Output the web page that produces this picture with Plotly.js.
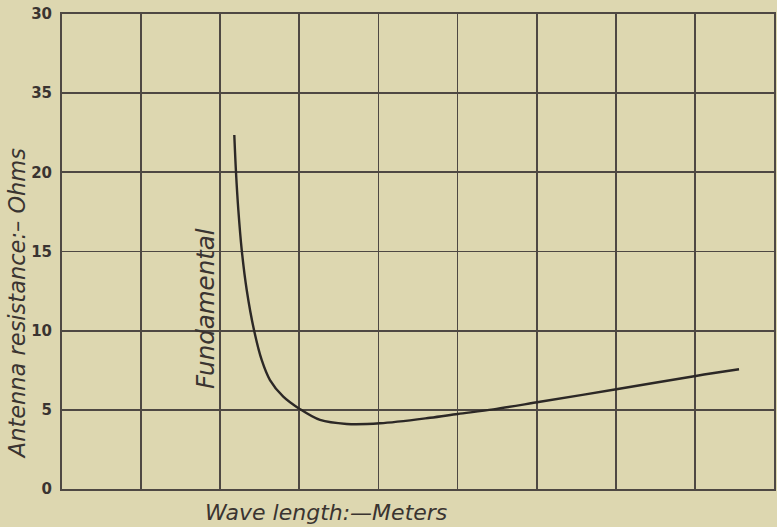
<!DOCTYPE html>
<html>
<head>
<meta charset="utf-8">
<script src="https://cdn.plot.ly/plotly-3.0.1.min.js"></script>
<style>
  html, body { margin: 0; padding: 0; background: #ddd7b0; }
  #chart { width: 777px; height: 527px; }
</style>
</head>
<body>
<div id="chart"></div>
<script>
// Wave length (grid units, unlabeled) and antenna resistance (ohms)
const waveLength = [2.178, 2.199, 2.229, 2.272, 2.335, 2.427, 2.524, 2.629, 2.797, 3.009, 3.261, 3.599, 4.020, 4.652, 5.002, 5.452, 6.042, 7.007, 8.010, 8.558];
const resistance = [22.36, 20.04, 17.62, 15.09, 12.57, 10.04, 8.15, 6.88, 5.83, 5.04, 4.36, 4.11, 4.15, 4.50, 4.74, 5.03, 5.51, 6.30, 7.14, 7.56];

const yTickVals = [0, 5, 10, 15, 20, 25, 30];
const yTickText = ['0', '5', '10', '15', '20', '35', '30'];
const xGridVals = [0, 1, 2, 3, 4, 5, 6, 7, 8, 9];

const xTitle = 'Wave length:—Meters';
const yTitle = 'Antenna resistance:– Ohms';
const markLabel = 'Fundamental';

const ink = '#3a3431';
const gridInk = '#4e4843';
const paper = '#ddd7b0';

const trace = {
  x: waveLength,
  y: resistance,
  type: 'scatter',
  mode: 'lines',
  line: { color: '#2c2826', width: 2.4, shape: 'spline', smoothing: 0.9 },
  hoverinfo: 'skip'
};

const layout = {
  width: 777,
  height: 527,
  margin: { l: 62, r: 3, t: 14, b: 38 },
  paper_bgcolor: paper,
  plot_bgcolor: paper,
  showlegend: false,
  font: { family: 'DejaVu Sans, sans-serif', color: ink },
  xaxis: {
    range: [0, 9],
    tickvals: xGridVals,
    showticklabels: false,
    ticks: '',
    showgrid: true,
    gridcolor: gridInk,
    gridwidth: 1.8,
    zeroline: false,
    showline: true,
    linecolor: gridInk,
    linewidth: 2,
    mirror: true,
    fixedrange: true
  },
  yaxis: {
    range: [0, 30],
    tickvals: yTickVals,
    ticktext: yTickText,
    ticks: '',
    ticklabelstandoff: 5,
    tickfont: { family: 'DejaVu Sans, sans-serif', size: 15, color: ink, weight: 600 },
    showgrid: true,
    gridcolor: gridInk,
    gridwidth: 1.8,
    zeroline: false,
    showline: true,
    linecolor: gridInk,
    linewidth: 2,
    mirror: true,
    fixedrange: true
  },
  annotations: [
    {
      text: xTitle,
      xref: 'paper', yref: 'paper',
      x: 0.371, y: -0.0505,
      xanchor: 'center', yanchor: 'middle',
      showarrow: false,
      font: { family: 'DejaVu Sans, sans-serif', size: 22, color: ink, style: 'italic' }
    },
    {
      text: yTitle,
      xref: 'paper', yref: 'paper',
      x: -0.064, y: 0.392,
      xanchor: 'center', yanchor: 'middle',
      textangle: -90,
      showarrow: false,
      font: { family: 'DejaVu Sans, sans-serif', size: 22.5, color: ink, style: 'italic' }
    },
    {
      text: markLabel,
      xref: 'paper', yref: 'paper',
      x: 0.2008, y: 0.381,
      xanchor: 'center', yanchor: 'middle',
      textangle: -90,
      showarrow: false,
      font: { family: 'DejaVu Sans, sans-serif', size: 24.5, color: ink, style: 'italic' }
    }
  ]
};

Plotly.newPlot('chart', [trace], layout, { displayModeBar: false, staticPlot: true });
</script>
</body>
</html>
